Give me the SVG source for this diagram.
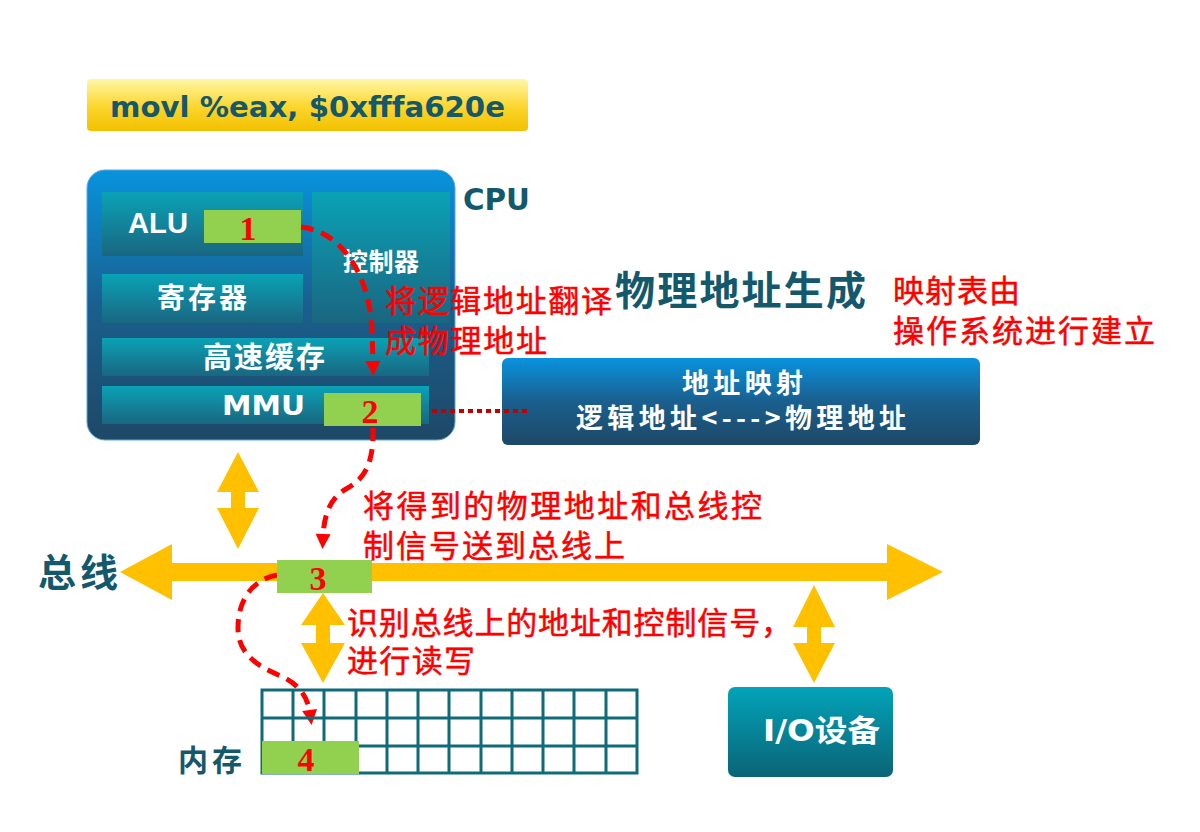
<svg xmlns="http://www.w3.org/2000/svg" width="1200" height="832" viewBox="0 0 1200 832">
<defs>
  <linearGradient id="gBanner" x1="0" y1="0" x2="0" y2="1">
    <stop offset="0" stop-color="#fff7a8"/>
    <stop offset="0.55" stop-color="#fbd52a"/>
    <stop offset="1" stop-color="#f3c000"/>
  </linearGradient>
  <linearGradient id="gBlue" x1="0" y1="0" x2="0" y2="1">
    <stop offset="0" stop-color="#0893de"/>
    <stop offset="0.5" stop-color="#1a5f8e"/>
    <stop offset="1" stop-color="#1e4866"/>
  </linearGradient>
  <linearGradient id="gTeal" x1="0" y1="0" x2="0" y2="1">
    <stop offset="0" stop-color="#0aa2b6"/>
    <stop offset="1" stop-color="#1a6680"/>
  </linearGradient>
  <linearGradient id="gIO" x1="0" y1="0" x2="0" y2="1">
    <stop offset="0" stop-color="#02a3b9"/>
    <stop offset="1" stop-color="#0a6476"/>
  </linearGradient>
  <marker id="ah" viewBox="0 0 10 10" refX="2" refY="5" markerUnits="userSpaceOnUse" markerWidth="16" markerHeight="15" orient="auto">
    <path d="M0,0 L10,5 L0,10 z" fill="#ff0000"/>
  </marker>
  <style>
    .cjkb{font-family:"Noto Sans CJK SC","Noto Sans",sans-serif;font-weight:bold;}
    .latb{font-family:"DejaVu Sans","Noto Sans CJK SC",sans-serif;font-weight:bold;}
    .arial{font-family:"Liberation Sans",Arial,sans-serif;font-weight:bold;}
    .red{font-family:"Noto Sans CJK SC","Noto Sans",sans-serif;fill:#ff0000;stroke:#ff0000;stroke-width:0.5;font-size:31px;}
    .dark{fill:#14586c;}
    .white{fill:#ffffff;}
    .num{font-family:"Liberation Serif","Times New Roman",serif;font-weight:bold;fill:#ff0000;font-size:34px;text-anchor:middle;}
    .green{fill:#92d050;}
    .yel{fill:#ffc000;}
    .dash{fill:none;stroke:#ff0000;stroke-width:5;stroke-dasharray:13 8;marker-end:url(#ah);}
    .sub{fill:url(#gTeal);}
    .grid{stroke:#0f6b78;stroke-width:3;fill:none;}
  </style>
</defs>
<rect width="1200" height="832" fill="#ffffff"/>

<g id="instruction">
  <rect x="87" y="79" width="441" height="52" rx="4" fill="url(#gBanner)"/>
  <text class="latb dark" x="110" y="117" font-size="29" textLength="395" lengthAdjust="spacingAndGlyphs">movl %eax, $0xfffa620e</text>
</g>

<g id="cpu">
  <rect x="87" y="170" width="368" height="270" rx="18" fill="url(#gBlue)" stroke="#5aa8d8" stroke-width="1"/>
  <text class="latb dark" x="463" y="210" font-size="30" textLength="67" lengthAdjust="spacingAndGlyphs">CPU</text>
</g>

<g id="alu">
  <rect class="sub" x="102" y="192" width="201" height="64"/>
  <text class="arial white" x="128" y="233" font-size="30" textLength="60" lengthAdjust="spacingAndGlyphs">ALU</text>
</g>
<g id="controller">
  <rect class="sub" x="312" y="192" width="138" height="131"/>
  <text class="cjkb white" x="343" y="271" font-size="25" textLength="76">控制器</text>
</g>
<g id="register">
  <rect class="sub" x="102" y="274" width="201" height="49"/>
  <text class="cjkb white" x="157" y="308" font-size="28" textLength="90">寄存器</text>
</g>
<g id="cache">
  <rect class="sub" x="102" y="338" width="327" height="38"/>
  <text class="cjkb white" x="203" y="368" font-size="29" textLength="122">高速缓存</text>
</g>
<g id="mmu">
  <rect class="sub" x="102" y="386" width="327" height="38"/>
  <text class="latb white" x="222" y="415" font-size="27" textLength="83" lengthAdjust="spacingAndGlyphs">MMU</text>
</g>

<g id="step1">
  <rect class="green" x="204" y="210" width="97" height="33"/>
  <text class="num" x="248" y="240">1</text>
</g>
<g id="step2">
  <rect class="green" x="324" y="393" width="97" height="33"/>
  <text class="num" x="370" y="423">2</text>
</g>

<g id="title">
  <text class="cjkb dark" x="615" y="305" font-size="40" textLength="251">物理地址生成</text>
</g>
<g id="note-os">
  <text class="red" x="893" y="302" textLength="127">映射表由</text>
  <text class="red" x="893" y="342" textLength="262">操作系统进行建立</text>
</g>
<g id="note-translate">
  <text class="red" x="385" y="312" textLength="227">将逻辑地址翻译</text>
  <text class="red" x="385" y="352" textLength="162">成物理地址</text>
</g>

<g id="address-map">
  <rect x="502" y="358" width="478" height="87" rx="6" fill="url(#gBlue)"/>
  <text class="cjkb white" x="682" y="393" font-size="27" textLength="121">地址映射</text>
  <text class="cjkb white" x="576" y="428" font-size="27" textLength="330">逻辑地址&lt;---&gt;物理地址</text>
</g>

<g id="bus">
  <text class="cjkb dark" x="38" y="586" font-size="38" textLength="80">总线</text>
</g>

<g id="connectors">
  <polygon class="yel" points="120,572 172,544 172,563 887,563 887,544 943,572 887,600 887,581 172,581 172,600"/>
  <polygon class="yel" points="238,452 259,492 245,492 245,508 259,508 238,549 217,508 231,508 231,492 217,492"/>
  <polygon class="yel" points="323,593 345,625 330,625 330,643 345,643 323,683 301,643 316,643 316,625 301,625"/>
  <polygon class="yel" points="814,585 835,627 821,627 821,643 835,643 814,683 793,643 807,643 807,627 793,627"/>
  <line x1="432" y1="411" x2="530" y2="411" stroke="#c00000" stroke-width="4" stroke-dasharray="5 4"/>
  <path class="dash" d="M301,227 C345,232 370,280 372,330 L373,364"/>
  <path class="dash" d="M373,428 C374,468 362,480 346,489 C330,498 324,515 323,537"/>
  <path class="dash" d="M277,575 C252,580 238,600 238,628 C238,660 268,670 285,678 C300,686 308,698 310,713"/>
</g>

<g id="step3">
  <rect class="green" x="277" y="560" width="95" height="33"/>
  <text class="num" x="318" y="590">3</text>
</g>

<g id="note-bus">
  <text class="red" x="363" y="517" textLength="399">将得到的物理地址和总线控</text>
  <text class="red" x="363" y="557" textLength="262">制信号送到总线上</text>
</g>
<g id="note-rw">
  <text class="red" x="347" y="634" textLength="445">识别总线上的地址和控制信号，</text>
  <text class="red" x="347" y="672" textLength="128">进行读写</text>
</g>

<g id="memory">
  <rect x="262" y="690" width="375" height="83" fill="#ffffff" class="grid"/>
  <path class="grid" d="M262,718 H637 M262,746 H637 M293,690 V773 M324,690 V773 M356,690 V773 M387,690 V773 M418,690 V773 M449,690 V773 M481,690 V773 M512,690 V773 M543,690 V773 M574,690 V773 M606,690 V773"/>
  <text class="cjkb dark" x="178" y="771" font-size="30" textLength="64">内存</text>
</g>
<g id="step4">
  <rect class="green" x="262" y="741" width="97" height="33"/>
  <text class="num" x="306" y="771">4</text>
</g>

<g id="io">
  <rect x="728" y="687" width="165" height="90" rx="7" fill="url(#gIO)"/>
  <text class="latb white" x="763" y="741" font-size="30" textLength="117" lengthAdjust="spacingAndGlyphs">I/O设备</text>
</g>
</svg>
